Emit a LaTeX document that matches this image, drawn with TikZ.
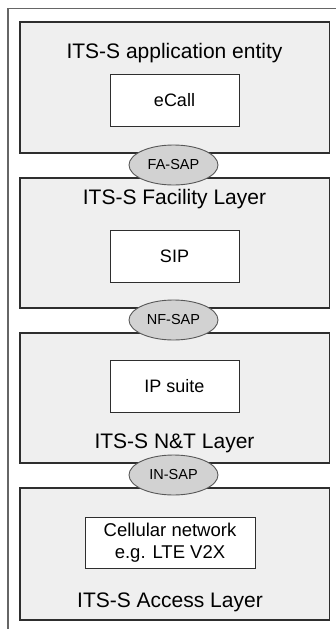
\documentclass[tikz,border=0pt]{standalone}
\usepackage{fontspec}
\setmainfont{Liberation Sans}
\usetikzlibrary{shapes.geometric}
\definecolor{layergray}{HTML}{EFEFEF}
\definecolor{sapgray}{HTML}{D2D2D2}
\definecolor{edgegray}{HTML}{2E2E2E}
\tikzset{
  layer/.style={draw=edgegray,fill=layergray,line width=1.1pt,minimum width=309.5pt,inner sep=0pt},
  entity/.style={draw=edgegray,fill=white,line width=1pt,minimum width=129pt,minimum height=52pt,inner sep=0pt,align=center,font=\fontsize{18}{21}\selectfont},
  sap/.style={ellipse,draw=edgegray!80,fill=sapgray,line width=0.9pt,minimum width=89pt,minimum height=40pt,inner sep=0pt,font=\fontsize{14.5}{16}\selectfont},
  title/.style={font=\fontsize{21}{24}\selectfont,inner sep=0pt}
}

\begin{document}
\begin{tikzpicture}[x=1pt,y=-1pt]
	\useasboundingbox (0,0) rectangle (336,629);
	% frame of the screenshot
	\draw[gray!80!black,line width=1.6pt] (8,629) -- (8,8.5) -- (336,8.5);
	
	% layers
	\node[layer,minimum height=131pt] (app) at (174.75,87.5) {};
	\node[layer,minimum height=130pt] (fac) at (174.75,243) {};
	\node[layer,minimum height=130pt] (nt) at (174.75,398) {};
	\node[layer,minimum height=132pt] (acc) at (174.75,554) {};
	
	\node[title] (apptitle) at (174.5,53) {ITS-S application entity};
	\node[title] (factitle) at (174.5,199) {ITS-S Facility Layer};
	\node[title] (nttitle) at (174.5,443) {ITS-S N\&T Layer};
	\node[title] (acctitle) at (170,602) {ITS-S Access Layer};
	
	% entities inside the layers
	\node[entity] (ecall) at (174.5,100) {eCall};
	\node[entity] (sip) at (174.5,256) {SIP};
	\node[entity] (ipsuite) at (174.5,386) {IP suite};
	\node[entity,minimum width=170pt,minimum height=51pt,font=\fontsize{18.5}{22}\selectfont] (cell) at (170,542.5) {Cellular network\\e.g. LTE V2X};
	
	% service access points
	\node[sap] (fasap) at (173.5,165) {FA-SAP};
	\node[sap] (nfsap) at (173.5,320) {NF-SAP};
	\node[sap] (insap) at (173.5,475) {IN-SAP};
\end{tikzpicture}
\end{document}
